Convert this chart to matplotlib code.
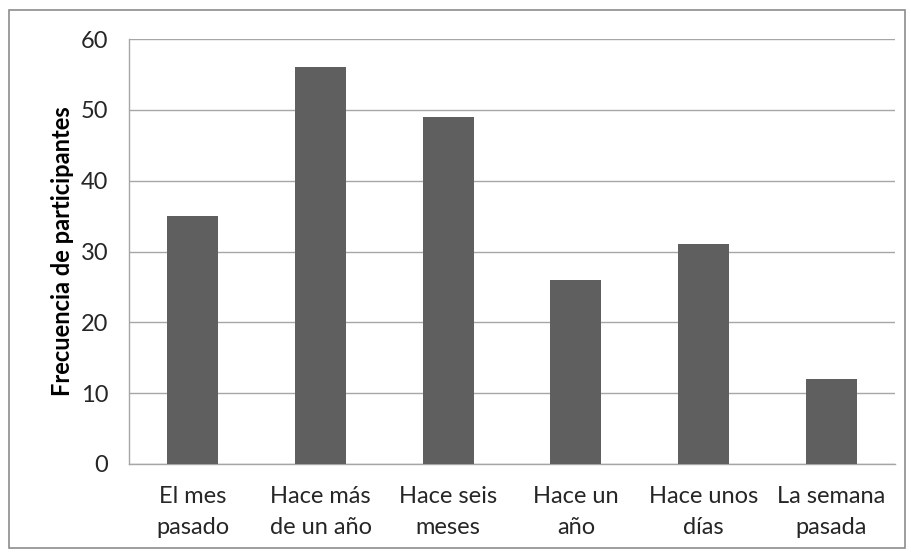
import matplotlib.pyplot as plt
from matplotlib.patches import Rectangle

categories = ['El mes\npasado', 'Hace más\nde un año', 'Hace seis\nmeses',
              'Hace un\naño', 'Hace unos\ndías', 'La semana\npasada']
frecuencias = [35, 56, 49, 26, 31, 12]
y_ticks = [0, 10, 20, 30, 40, 50, 60]

plt.rcParams['font.family'] = ['Lato', 'DejaVu Sans']

fig = plt.figure(figsize=(9.11, 5.53), dpi=100)
ax = fig.add_axes([129 / 911, 1 - 464 / 553, (895 - 129) / 911, (464 - 39) / 553])

# outer chart frame
fig.patches.append(Rectangle((9 / 911, 1 - 548 / 553), (905 - 9) / 911, (548 - 10) / 553,
                             transform=fig.transFigure, fill=False,
                             edgecolor='#8c8c8c', linewidth=1.2))

positions = range(len(categories))
ax.bar(positions, frecuencias, width=0.4, color='#5f5f5f', zorder=3)

ax.set_xlim(-0.5, len(categories) - 0.5)
ax.set_ylim(0, 60)
ax.set_yticks(y_ticks)
ax.set_xticks(list(positions))
ax.set_xticklabels(categories, fontsize=17, color='#262626', linespacing=1.6)
ax.tick_params(axis='y', labelsize=17, labelcolor='#262626', length=0, pad=15)
ax.tick_params(axis='x', length=0, pad=16)
ax.grid(axis='y', color='#a6a6a6', linewidth=1, zorder=0)

for side in ['top', 'right']:
    ax.spines[side].set_visible(False)
for side in ['left', 'bottom']:
    ax.spines[side].set_color('#a6a6a6')
    ax.spines[side].set_linewidth(1)

ax.set_ylabel('Frecuencia de participantes', fontsize=17, fontweight='bold',
              color='black', labelpad=5)

fig.savefig('out.png', dpi=100)
